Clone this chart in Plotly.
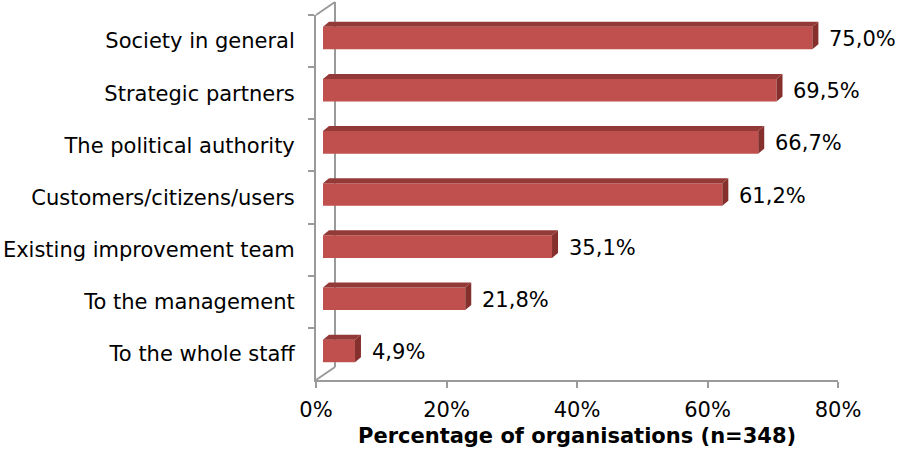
import plotly.graph_objects as go

# Survey result: who the organisations report to (share of organisations, %)
categories = [
    "Society in general",
    "Strategic partners",
    "The political authority",
    "Customers/citizens/users",
    "Existing improvement team",
    "To the management",
    "To the whole staff",
]
shares = [75.0, 69.5, 66.7, 61.2, 35.1, 21.8, 4.9]
x_tickvals = [0, 20, 40, 60, 80]
x_ticktext = ["0%", "20%", "40%", "60%", "80%"]
x_title = "Percentage of organisations (n=348)"

# ---- geometry / style -------------------------------------------------------
W, H = 902, 450
ML, MR, MT, MB = 316, 64, 15, 70
PW, PH = W - ML - MR, H - MT - MB
X_MAX = 80.0
N = len(categories)
PX_X = PW / X_MAX            # pixels per percentage point
PX_Y = PH / N                # pixels per category slot

FRONT = "#C0504D"
TOP = "#933A38"
SIDE = "#86302E"
AXIS = "#9A9A9A"
FONT = "DejaVu Sans"

# bar plane sits slightly behind the front (axis) plane
BAR_SHIFT_X = 7 / PX_X       # in % units
BAR_SHIFT_Y = 3 / PX_Y       # in category units
BAR_W = 22.6 / PX_Y          # bar thickness in category units
DEPTH_X = 6 / PX_X           # extrusion of the bar to the right
DEPTH_Y = 5 / PX_Y           # extrusion of the bar upwards

fig = go.Figure()

idx = list(range(N))

# front faces
fig.add_trace(go.Bar(
    x=shares, y=idx, orientation="h", width=BAR_W,
    marker=dict(color=FRONT, line=dict(width=0)),
    xaxis="x2", yaxis="y2", hoverinfo="skip", showlegend=False,
))

# top and side faces of each bar
for i, v in enumerate(shares):
    t = i - BAR_W / 2
    b = i + BAR_W / 2
    fig.add_trace(go.Scatter(
        x=[0, v, v + DEPTH_X, DEPTH_X, 0],
        y=[t, t, t - DEPTH_Y, t - DEPTH_Y, t],
        fill="toself", fillcolor=TOP, mode="lines", line=dict(width=0),
        xaxis="x2", yaxis="y2", hoverinfo="skip", showlegend=False,
    ))
    fig.add_trace(go.Scatter(
        x=[v, v + DEPTH_X, v + DEPTH_X, v, v],
        y=[t, t - DEPTH_Y, b - DEPTH_Y, b, t],
        fill="toself", fillcolor=SIDE, mode="lines", line=dict(width=0),
        xaxis="x2", yaxis="y2", hoverinfo="skip", showlegend=False,
    ))

# value labels
for i, v in enumerate(shares):
    fig.add_annotation(
        x=v, y=i, xref="x2", yref="y2",
        text=f"{v:.1f}".replace(".", ",") + "%",
        showarrow=False, xanchor="left", yanchor="middle",
        xshift=6 + 9, yshift=-1,
        font=dict(family=FONT, size=21, color="black"),
    )

# axis title, placed under the tick labels
fig.add_annotation(
    x=0.5, y=(PH - (436 - MT)) / PH, xref="paper", yref="paper",
    text=f"<b>{x_title}</b>", showarrow=False,
    xanchor="center", yanchor="middle",
    font=dict(family=FONT, size=21, color="black"),
)

# invisible trace to carry the category axis
fig.add_trace(go.Scatter(
    x=[None] * N, y=categories, mode="markers", showlegend=False,
    hoverinfo="skip",
))

# back wall edges of the pseudo-3D frame
def px_to_paper(px, py):
    return (px - ML) / PW, (MT + PH - py) / PH

WALL_DX, WALL_DY = 19, 13
x0, y_top = px_to_paper(ML, MT)
_, y_bot = px_to_paper(ML, MT + PH)
xb, y_top_b = px_to_paper(ML + WALL_DX, MT - WALL_DY)
_, y_bot_b = px_to_paper(ML, MT + PH - WALL_DY)
wall_line = dict(color=AXIS, width=2)
for (xa, ya, xc, yc) in [
    (xb, y_top_b, xb, y_bot_b),
    (x0, y_top, xb, y_top_b),
    (x0, y_bot, xb, y_bot_b),
]:
    fig.add_shape(type="line", xref="paper", yref="paper",
                  x0=xa, y0=ya, x1=xc, y1=yc, line=wall_line, layer="below")

fig.update_layout(
    width=W, height=H,
    margin=dict(l=ML, r=MR, t=MT, b=MB, pad=0, autoexpand=False),
    paper_bgcolor="white", plot_bgcolor="white",
    showlegend=False,
    font=dict(family=FONT, size=21, color="black"),
    xaxis=dict(
        range=[0, X_MAX], tickvals=x_tickvals, ticktext=x_ticktext,
        showgrid=False, zeroline=False, showline=True, automargin=False,
        linecolor=AXIS, linewidth=2, ticks="outside", ticklen=6,
        tickcolor=AXIS, tickwidth=2, ticklabelstandoff=4,
        tickfont=dict(family=FONT, size=21, color="black"),
        fixedrange=True,
    ),
    yaxis=dict(
        type="category", categoryorder="array", categoryarray=categories,
        range=[N - 0.5, -0.5], automargin=False,
        showgrid=False, zeroline=False, showline=True,
        linecolor=AXIS, linewidth=2, ticks="outside", ticklen=6,
        tickcolor=AXIS, tickwidth=2, tickson="boundaries",
        ticklabelstandoff=15,
        tickfont=dict(family=FONT, size=21, color="black"),
        fixedrange=True,
    ),
    xaxis2=dict(
        overlaying="x", anchor="y2", visible=False,
        range=[-BAR_SHIFT_X, X_MAX - BAR_SHIFT_X], fixedrange=True,
    ),
    yaxis2=dict(
        overlaying="y", anchor="x2", visible=False,
        range=[N - 0.5 + BAR_SHIFT_Y, -0.5 + BAR_SHIFT_Y], fixedrange=True,
    ),
)

fig.write_html("out.html")
